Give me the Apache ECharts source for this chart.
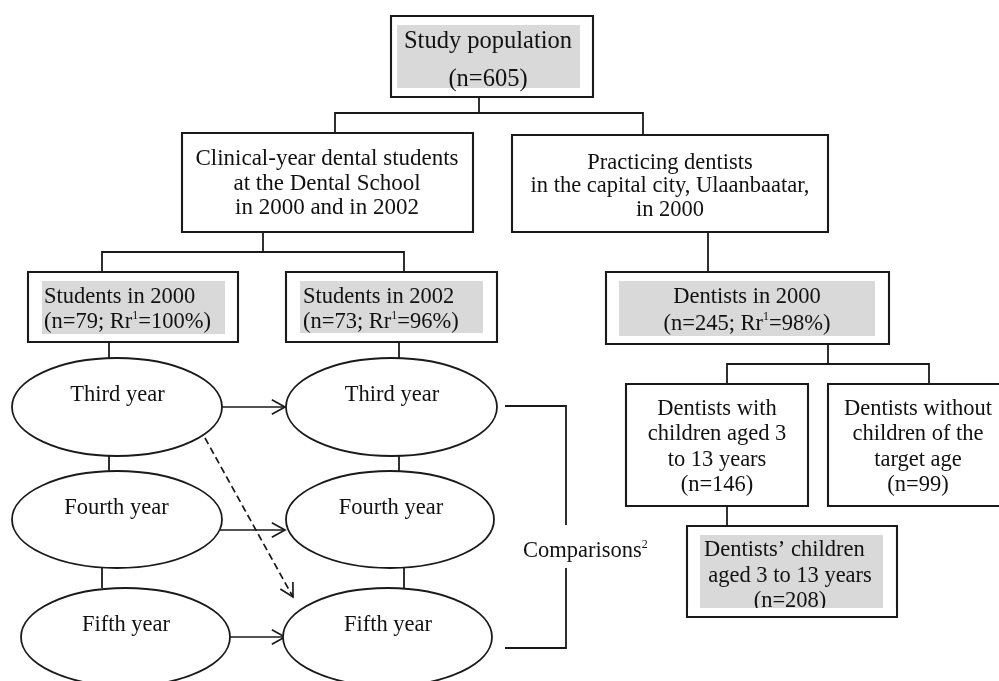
<!DOCTYPE html>
<html><head><meta charset="utf-8">
<script src="https://cdn.jsdelivr.net/npm/echarts@6/dist/echarts.min.js"></script>
<style>html,body{margin:0;padding:0;background:#fff}#c{width:999px;height:681px}</style>
</head><body><div id="c"></div>
<script>
// ---------- DATA (text content of the flowchart) ----------
// {s|1} marks a superscript footnote number
const boxLabels = [
  'Study population\n(n=605)',
  'Clinical-year dental students\nat the Dental School\nin 2000 and in 2002',
  'Practicing dentists\nin the capital city, Ulaanbaatar,\nin 2000',
  'Students in 2000\n(n=79; Rr{s|1}=100%)',
  'Students in 2002\n(n=73; Rr{s|1}=96%)',
  'Dentists in 2000\n(n=245; Rr{s|1}=98%)',
  'Dentists with\nchildren aged 3\nto 13 years\n(n=146)',
  'Dentists without\nchildren of the\ntarget age\n(n=99)',
  'Dentists’ children  \naged 3 to 13 years\n(n=208)'
];
const yearLabels2000 = ['Third year', 'Fourth year', 'Fifth year'];
const yearLabels2002 = ['Third year', 'Fourth year', 'Fifth year'];
const comparisonLabel = 'Comparisons{s|2}';

// ---------- LAYOUT (positions / sizes, in chart units) ----------
const boxLayout = [
  {r:[391,16,593,97],  gray:[397,25,580,88],  tx:488, ty:61,    lh:38,   fs:24.5, align:'center'},
  {r:[182,133,473,232], tx:327, ty:183.5, lh:24.5, fs:23, align:'center'},
  {r:[512,135,828,232], tx:670, ty:186.5, lh:23.5, fs:22.5, align:'center'},
  {r:[28,272,238,342],  gray:[42,281,225,334],  tx:44,  ty:310, lh:25, fs:22.5, align:'left'},
  {r:[286,272,497,342], gray:[300,281,483,333], tx:303, ty:310, lh:25, fs:22.5, align:'left'},
  {r:[606,272,889,344], gray:[619,281,875,336], tx:747, ty:310.5, lh:27.5, fs:22.5, align:'center'},
  {r:[626,384,808,506], tx:717, ty:447, lh:25.5, fs:22.5, align:'center'},
  {r:[828,384,1012,506], tx:918, ty:447, lh:25.5, fs:22.5, align:'center'},
  {r:[687,526,897,617], gray:[700,535,883,608], tx:790, ty:576, lh:25.5, fs:22.5, align:'center', cut:608}
];
const ellipseLayout = [
  {c:[117,407],   r:[105,49],   tx:117.5, ty:395},
  {c:[117,519.5], r:[105,48.5], tx:116.5, ty:508},
  {c:[125.5,637], r:[104.5,49], tx:126,   ty:625},
  {c:[391.5,407], r:[105.5,49], tx:392,   ty:395},
  {c:[390,519.5], r:[104,48.5], tx:391,   ty:508},
  {c:[387.5,637], r:[104.5,49], tx:388,   ty:625}
];
const connectorLayout = [
  [[479,97],[479,113]],
  [[335,133],[335,113],[643,113],[643,135]],
  [[263,232],[263,252]],
  [[102,272],[102,252],[404,252],[404,272]],
  [[708,232],[708,272]],
  [[828,344],[828,364]],
  [[727,384],[727,364],[929,364],[929,384]],
  [[727,506],[727,526]],
  [[109,342],[109,358]], [[109,456],[109,471]], [[102,568],[102,588]],
  [[399,342],[399,358]], [[399,456],[399,471]], [[404,568],[404,588]],
  [[505,406],[566,406],[566,525]],
  [[566,568],[566,648],[505,648]]
];
const arrowLayout = [
  {p:[[222,407],[285,407]]},
  {p:[[220,530],[285,530]]},
  {p:[[230,637],[285,637]]},
  {p:[[205,438],[293,597]], dashed:true}
];
const comparisonPos = [523, 551];

const FONT = "'Liberation Serif','Times New Roman',serif";
const INK = '#1a1a1a';
const GRAY = '#d9d9d9';
const SUP = {s:{fontSize:12, fontFamily:FONT, fill:'#111', verticalAlign:'top', lineHeight:15}};

const chart = echarts.init(document.getElementById('c'), null, {renderer:'canvas'});

function rectShape(api, r) {
  const p0 = api.coord([r[0], r[1]]), p1 = api.coord([r[2], r[3]]);
  return {x:p0[0], y:p0[1], width:p1[0]-p0[0], height:p1[1]-p0[1]};
}

const allYears = yearLabels2000.concat(yearLabels2002);

chart.setOption({
  animation:false,
  grid:{left:0, right:0, top:0, bottom:0},
  xAxis:{type:'value', min:0, max:999, show:false},
  yAxis:{type:'value', min:0, max:681, inverse:true, show:false},
  series:[
    { // connectors
      type:'custom', silent:true,
      data: connectorLayout.map((_, i) => [i, 0]),
      renderItem(params, api) {
        const pts = connectorLayout[params.dataIndex].map(p => api.coord(p));
        return {type:'polyline', shape:{points:pts}, style:{stroke:INK, lineWidth:1.8, fill:null}};
      }
    },
    { // arrows
      type:'custom', silent:true,
      data: arrowLayout.map((_, i) => [i, 0]),
      renderItem(params, api) {
        const a = arrowLayout[params.dataIndex];
        const s = api.coord(a.p[0]), e = api.coord(a.p[1]);
        const ang = Math.atan2(e[1]-s[1], e[0]-s[0]);
        const L = 15, W = 0.5;
        const h1 = [e[0]-L*Math.cos(ang-W), e[1]-L*Math.sin(ang-W)];
        const h2 = [e[0]-L*Math.cos(ang+W), e[1]-L*Math.sin(ang+W)];
        return {type:'group', children:[
          {type:'line', shape:{x1:s[0], y1:s[1], x2:e[0], y2:e[1]},
           style:{stroke:INK, lineWidth:1.7, lineDash: a.dashed ? [7,4] : null}},
          {type:'polyline', shape:{points:[h1, e, h2]}, style:{stroke:INK, lineWidth:1.7, fill:null}}
        ]};
      }
    },
    { // boxes
      type:'custom', silent:true,
      data: boxLabels.map((t, i) => ({value:[i, 0], name:t})),
      renderItem(params, api) {
        const i = params.dataIndex, b = boxLayout[i];
        const kids = [{type:'rect', shape:rectShape(api, b.r), style:{fill:'#fff', stroke:INK, lineWidth:2.1}}];
        if (b.gray) kids.push({type:'rect', shape:rectShape(api, b.gray), style:{fill:GRAY}});
        const tp = api.coord([b.tx, b.ty]);
        kids.push({type:'text', style:{text:boxLabels[i], x:tp[0], y:tp[1], fill:'#111',
          fontSize:b.fs, fontFamily:FONT, align:b.align, verticalAlign:'middle', lineHeight:b.lh, rich:SUP}});
        if (b.cut) {
          const c0 = api.coord([b.r[0]+1.2, b.cut]), c1 = api.coord([b.r[2]-1.2, b.r[3]-1.2]);
          kids.push({type:'rect', shape:{x:c0[0], y:c0[1], width:c1[0]-c0[0], height:c1[1]-c0[1]}, style:{fill:'#fff'}});
        }
        return {type:'group', children:kids};
      }
    },
    { // year ellipses
      type:'custom', silent:true,
      data: allYears.map((t, i) => ({value:[i, 0], name:t})),
      renderItem(params, api) {
        const i = params.dataIndex, e = ellipseLayout[i];
        const c = api.coord(e.c), tp = api.coord([e.tx, e.ty]);
        return {type:'group', children:[
          {type:'ellipse', shape:{cx:c[0], cy:c[1], rx:e.r[0], ry:e.r[1]}, style:{fill:'#fff', stroke:INK, lineWidth:1.8}},
          {type:'text', style:{text:allYears[i], x:tp[0], y:tp[1], fill:'#111', fontSize:22.5, fontFamily:FONT,
            align:'center', verticalAlign:'middle'}}
        ]};
      }
    },
    { // comparison label
      type:'custom', silent:true,
      data:[[0,0]],
      renderItem(params, api) {
        const p = api.coord(comparisonPos);
        return {type:'text', style:{text:comparisonLabel, x:p[0], y:p[1], fill:'#111', fontSize:22.5, fontFamily:FONT,
          align:'left', verticalAlign:'middle', lineHeight:25, rich:SUP}};
      }
    }
  ]
});
</script></body></html>
